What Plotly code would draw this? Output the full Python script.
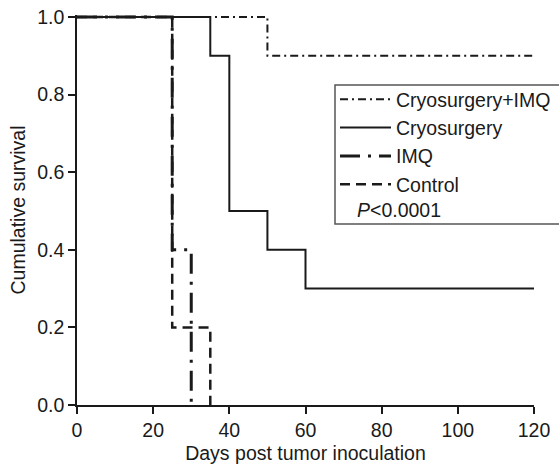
import plotly.graph_objects as go

# Kaplan-Meier style survival data (step points)
cryo_imq_days = [0, 50, 120]
cryo_imq_surv = [1.0, 0.9, 0.9]

cryo_days = [0, 35, 40, 50, 60, 120]
cryo_surv = [1.0, 0.9, 0.5, 0.4, 0.3, 0.3]

imq_days = [0, 25, 30]
imq_surv = [1.0, 0.4, 0.0]

control_days = [0, 25, 35]
control_surv = [1.0, 0.2, 0.0]

x_ticks = [0, 20, 40, 60, 80, 100, 120]
y_ticks = [0.0, 0.2, 0.4, 0.6, 0.8, 1.0]

FONT = "Liberation Sans, Arial, sans-serif"
INK = "#1a1a1a"
FS = 19.5

# plot area target (screen px): x 77..534, y 15..405 ; body margin removed in page
L, R, T, B = 77, 25, 15, 60
W, H = 559, 465
PW, PH = W - L - R, H - T - B


def px(xs):
    return (xs - L) / PW


def py(ys):
    return (T + PH - ys) / PH


fig = go.Figure()
fig.add_trace(go.Scatter(x=cryo_imq_days, y=cryo_imq_surv, mode="lines", line_shape="hv",
                         name="Cryosurgery+IMQ",
                         line=dict(color=INK, width=2, dash="8px,4px,2px,4px")))
fig.add_trace(go.Scatter(x=cryo_days, y=cryo_surv, mode="lines", line_shape="hv",
                         name="Cryosurgery",
                         line=dict(color=INK, width=2)))
fig.add_trace(go.Scatter(x=imq_days, y=imq_surv, mode="lines", line_shape="hv",
                         name="IMQ",
                         line=dict(color=INK, width=3, dash="20px,8px,3px,8px")))
fig.add_trace(go.Scatter(x=control_days, y=control_surv, mode="lines", line_shape="hv",
                         name="Control",
                         line=dict(color=INK, width=2.5, dash="10px,6px")))

# legend frame (extends past the right edge, as in the reference)
fig.add_shape(type="rect", xref="paper", yref="paper",
              x0=px(335), x1=px(575), y0=py(224), y1=py(85),
              fillcolor="white", line=dict(color="#555555", width=1.5), layer="above")

fig.add_annotation(text="<i>P</i><0.0001", xref="paper", yref="paper",
                   x=px(355), y=py(210), xanchor="left", yanchor="middle",
                   showarrow=False, font=dict(family=FONT, size=FS, color=INK))

fig.update_layout(
    width=W, height=H,
    margin=dict(l=L, r=R, t=T, b=B, autoexpand=False),
    paper_bgcolor="white", plot_bgcolor="white",
    font=dict(family=FONT, size=FS, color=INK),
    showlegend=True,
    legend=dict(x=px(335), y=py(80), xanchor="left", yanchor="top",
                bgcolor="rgba(0,0,0,0)", borderwidth=0,
                font=dict(family=FONT, size=FS, color=INK), itemwidth=51,
                tracegroupgap=0),
)
fig.update_xaxes(range=[0, 120], tickvals=x_ticks, ticks="outside", ticklen=7, tickwidth=1.5,
                 tickcolor=INK, showline=True, linecolor=INK, linewidth=1.5, showgrid=False,
                 zeroline=False, automargin=False, ticklabeloverflow="allow",
                 title=dict(text="Days post tumor inoculation", standoff=6, font=dict(size=FS)))
fig.update_yaxes(range=[0, 1.005], tickvals=y_ticks, tickformat=".1f", ticks="outside", ticklen=7,
                 tickwidth=1.5, tickcolor=INK, showline=True, linecolor=INK, linewidth=1.5,
                 showgrid=False, zeroline=False, automargin=False, ticklabeloverflow="allow",
                 title=dict(text="Cumulative survival", standoff=6, font=dict(size=FS)))

fig.write_html("out.html", config={"displayModeBar": False},
               post_script="document.body.style.margin='0px';document.body.style.overflow='hidden';")
